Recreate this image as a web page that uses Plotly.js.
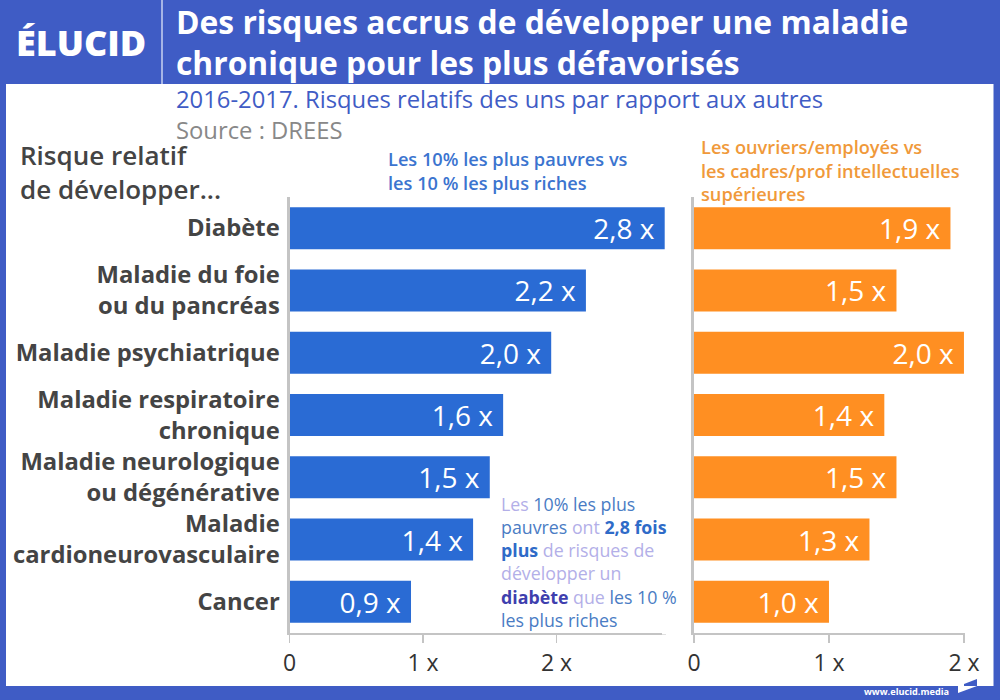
<!DOCTYPE html>
<html><head><meta charset="utf-8">
<script src="https://cdn.plot.ly/plotly-3.0.1.min.js"></script>
<style>html,body{margin:0;padding:0;background:#3f5cc5}</style></head>
<body><div id="chart" style="width:1000px;height:700px"></div>
<script>
const categories = ["Diabète","Maladie du foie<br>ou du pancréas","Maladie psychiatrique","Maladie respiratoire<br>chronique","Maladie neurologique<br>ou dégénérative","Maladie<br>cardioneurovasculaire","Cancer"];
const poorValues = [2.81,2.22,1.96,1.6,1.5,1.375,0.91];
const poorLabels = ["2,8 x","2,2 x","2,0 x","1,6 x","1,5 x","1,4 x","0,9 x"];
const workerValues = [1.9,1.5,2.0,1.41,1.5,1.3,1.0];
const workerLabels = ["1,9 x","1,5 x","2,0 x","1,4 x","1,5 x","1,3 x","1,0 x"];
const tickValues = [0,1,2];
const tickLabels = ["0","1 x","2 x"];

const FONT = "'Open Sans', sans-serif";
const HEADER = "#3f5cc5", BLUE = "#2a6bd4", ORANGE = "#ff8f22", GREY = "#444444", AXIS = "#c4c4c4";
const LIGHT = "#b3afe8", MID = "#4a7cc4";
const px = v => v / 1000, py = v => 1 - v / 700;
const pad = s => s + "\u00a0";

function note(x, y, text, size, color, weight) {
  return {xref:"paper",yref:"paper",x:px(x),y:py(y),text:text,showarrow:false,
    xanchor:"left",yanchor:"middle",align:"left",font:{family:FONT,size:size,color:color,weight:weight||400}};
}
function barTrace(values, labels, color, xa, ya) {
  return {type:"bar",orientation:"h",x:values,y:categories,xaxis:xa,yaxis:ya,text:labels.map(pad),
    textposition:"inside",insidetextanchor:"end",textangle:0,constraintext:"none",
    textfont:{family:FONT,size:28,color:"#ffffff",weight:500},marker:{color:color},hoverinfo:"skip",showlegend:false};
}
function xAxis(domain, range, anchor) {
  return {domain:domain,range:range,anchor:anchor,tickmode:"array",tickvals:tickValues,ticktext:tickLabels,
    ticks:"outside",ticklen:8,tickwidth:1.5,tickcolor:AXIS,showgrid:false,zeroline:false,showline:true,
    linecolor:AXIS,linewidth:2,tickfont:{family:FONT,size:23,color:"#333333"}};
}
function yAxis(showLabels, anchor) {
  return {domain:[py(633),py(197)],range:[6.5,-0.5],anchor:anchor,type:"category",categoryorder:"array",categoryarray:categories,
    showgrid:false,zeroline:false,showline:true,linecolor:AXIS,linewidth:3,ticks:"",showticklabels:showLabels,
    ticklabelstandoff:2,tickfont:{family:FONT,size:23.8,color:GREY,weight:700}};
}
const callout = [
  `<span style="color:${LIGHT}">Les </span><span style="color:${MID}">10% les plus</span>`,
  `<span style="color:${MID}">pauvres </span><span style="color:${LIGHT}">ont </span><b style="color:#2f6bc8">2,8 fois</b>`,
  `<b style="color:#2f6bc8">plus</b><span style="color:${LIGHT}"> de risques de</span>`,
  `<span style="color:${LIGHT}">développer un</span>`,
  `<b style="color:#3f3fae">diabète</b><span style="color:${LIGHT}"> que </span><span style="color:${MID}">les 10 %</span>`,
  `<span style="color:${MID}">les plus riches</span>`
].join("<br>");

const layout = {
  width:1000,height:700,margin:{l:0,r:0,t:0,b:0},paper_bgcolor:HEADER,plot_bgcolor:"rgba(0,0,0,0)",
  bargap:0.326,showlegend:false,font:{family:FONT},
  xaxis:xAxis([px(289.5),px(665.5)],[0,2.816],"y"),
  yaxis:yAxis(true,"x"),
  xaxis2:xAxis([px(694),px(964.5)],[0,2.004],"y2"),
  yaxis2:yAxis(false,"x2"),
  shapes:[
    {type:"rect",xref:"paper",yref:"paper",x0:px(6),x1:px(993.5),y0:py(686),y1:py(84),fillcolor:"#ffffff",line:{width:0},layer:"below"},
    {type:"line",xref:"paper",yref:"paper",x0:px(162),x1:px(162),y0:py(84),y1:py(0),line:{color:"#c9d2f0",width:1.5}},
    {type:"line",xref:"paper",yref:"paper",x0:px(662),x1:px(667),y0:py(633),y1:py(633),line:{color:"#ffffff",width:3}},
    {type:"path",xref:"paper",yref:"paper",path:`M ${px(964)} ${py(684)} L ${px(977)} ${py(679)} L ${px(977)} ${py(686)} L ${px(964)} ${py(686)} Z`,fillcolor:HEADER,line:{width:0}},
    {type:"path",xref:"paper",yref:"paper",path:`M ${px(958)} ${py(686)} L ${px(977)} ${py(686)} L ${px(958)} ${py(693)} Z`,fillcolor:"#ffffff",line:{width:0}}
  ],
  annotations:[
    note(14,42,"ÉLUCID",36,"#ffffff",800),
    note(174,42,"Des risques accrus de développer une maladie<br>chronique pour les plus défavorisés",31.8,"#ffffff",700),
    note(174,115,`2016-2017. Risques relatifs des uns par rapport aux autres<br><span style="color:#888888">Source : DREES</span>`,23.8,HEADER),
    note(18,172,"Risque relatif<br>de développer...",26,GREY,600),
    note(386,171,"Les 10% les plus pauvres vs<br>les 10 % les plus riches",18.2,"#3b74cf",600),
    note(699,171,"Les ouvriers/employés vs<br>les cadres/prof intellectuelles<br>supérieures",18.2,"#f0993a",600),
    note(499,561.5,callout,17.8,MID),
    note(862,691,"www.elucid.media",9.2,"#ffffff",700)
  ]
};
Plotly.newPlot("chart",[barTrace(poorValues,poorLabels,BLUE,"x","y"),barTrace(workerValues,workerLabels,ORANGE,"x2","y2")],layout,{displayModeBar:false,staticPlot:true});
</script></body></html>
